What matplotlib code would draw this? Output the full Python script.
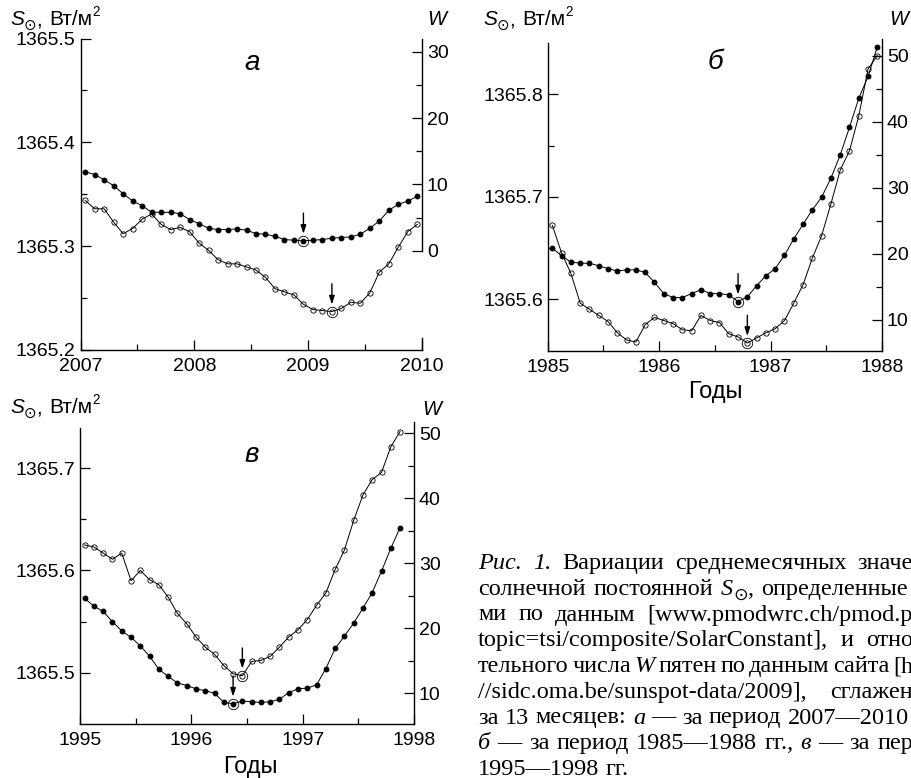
import numpy as np
import matplotlib
matplotlib.use('Agg')
import matplotlib.pyplot as plt
from matplotlib.ticker import FixedLocator, FormatStrFormatter
from matplotlib.transforms import IdentityTransform

plt.rcParams['font.family'] = ['Liberation Sans', 'DejaVu Sans']

# --- данные (среднемесячные, сглаженные за 13 месяцев) ---
# а: 2007-2010
w_a = [11.9, 11.5, 10.7, 9.8, 8.6, 7.5, 6.8, 5.8, 5.8, 5.8, 5.6, 4.7,
       4.1, 3.4, 3.2, 3.2, 3.3, 3.1, 2.6, 2.5, 2.2, 1.7, 1.6, 1.5,
       1.6, 1.7, 1.9, 2.0, 2.1, 2.5, 3.4, 4.5, 6.1, 7.0, 7.5, 8.2]
s_a = [1365.344, 1365.336, 1365.336, 1365.323, 1365.312, 1365.317,
       1365.326, 1365.331, 1365.321, 1365.316, 1365.318, 1365.314,
       1365.303, 1365.296, 1365.287, 1365.283, 1365.283, 1365.280,
       1365.277, 1365.270, 1365.259, 1365.256, 1365.253, 1365.244,
       1365.239, 1365.238, 1365.237, 1365.240, 1365.246, 1365.245,
       1365.255, 1365.275, 1365.283, 1365.299, 1365.314, 1365.321]
# б: 1985-1988
w_b = [20.9, 19.7, 18.8, 18.6, 18.6, 18.2, 17.8, 17.4, 17.6, 17.6, 17.2, 15.7,
       14.0, 13.4, 13.4, 14.0, 14.6, 14.0, 14.0, 13.8, 12.8, 13.5, 15.2, 16.7,
       17.8, 19.8, 22.3, 24.5, 26.7, 28.6, 31.5, 35.0, 39.2, 43.6, 46.9, 51.4]
s_b = [1365.672, 1365.645, 1365.625, 1365.596, 1365.590, 1365.584,
       1365.578, 1365.567, 1365.560, 1365.558, 1365.575, 1365.582,
       1365.579, 1365.576, 1365.570, 1365.569, 1365.584, 1365.579,
       1365.577, 1365.566, 1365.563, 1365.557, 1365.562, 1365.567,
       1365.571, 1365.579, 1365.596, 1365.614, 1365.640, 1365.662,
       1365.693, 1365.726, 1365.745, 1365.779, 1365.825, 1365.838]
# в: 1995-1998
w_c = [24.6, 23.4, 22.6, 21.0, 19.6, 18.6, 17.3, 15.7, 13.7, 12.6, 11.6, 11.2,
       10.7, 10.4, 10.0, 8.6, 8.4, 8.8, 8.7, 8.6, 8.7, 9.1, 10.1, 10.7,
       10.8, 11.3, 13.8, 16.9, 18.8, 20.8, 23.1, 25.5, 28.8, 32.3, 35.5]
s_c = [1365.625, 1365.623, 1365.617, 1365.611, 1365.617, 1365.590,
       1365.600, 1365.591, 1365.586, 1365.574, 1365.558, 1365.548,
       1365.535, 1365.525, 1365.518, 1365.507, 1365.499, 1365.497,
       1365.511, 1365.512, 1365.516, 1365.525, 1365.535, 1365.542,
       1365.552, 1365.566, 1365.578, 1365.601, 1365.620, 1365.649,
       1365.674, 1365.689, 1365.696, 1365.721, 1365.736]

caption = [
    "*Рис.* *1.* Вариации среднемесячных значе",
    "солнечной постоянной *S*_⊙_, определенные",
    "ми по данным [www.pmodwrc.ch/pmod.p",
    "topic=tsi/composite/SolarConstant], и отно",
    "тельного числа *W* пятен по данным сайта [h",
    "//sidc.oma.be/sunspot-data/2009], сглажен",
    "за 13 месяцев: *а* — за период 2007—2010",
    "*б* — за период 1985—1988 гг., *в* — за пер",
    "1995—1998 гг.",
]
caption_right = [913, 908, 913, 913, 913, 913, 909, 913, None]

W, H = 911, 778
fig = plt.figure(figsize=(W / 100, H / 100), dpi=100)
rend = fig.canvas.get_renderer()


def px_box(l, t, r, b):
    return [l / W, 1 - b / H, (r - l) / W, (b - t) / H]


def parse(word):
    # '*' курсив, '_' нижний индекс, '^' верхний индекс
    runs, cur, style = [], '', 'n'
    for ch in word:
        if ch in '*_^':
            if cur:
                runs.append((cur, style))
                cur = ''
            new = {'*': 'i', '_': 'sub', '^': 'sup'}[ch]
            style = 'n' if style == new else new
        else:
            cur += ch
    if cur:
        runs.append((cur, style))
    return runs


def draw_line(x, y, line, family, size, right=None, space=0.25):
    em = size * 100 / 72
    words = []
    for wd in line.split(' '):
        items = []
        for text, style in parse(wd):
            fs, dy = size, 0
            kw = {}
            if style == 'i':
                kw['fontstyle'] = 'italic'
            if style == 'sub':
                fs, dy = size * 0.72, -0.22 * em
            if style == 'sup':
                fs, dy = size * 0.65, 0.42 * em
            t = fig.text(0, H - y + dy, text, transform=IdentityTransform(),
                         family=family, fontsize=fs, va='baseline', ha='left', **kw)
            items.append((t, t.get_window_extent(rend).width))
        words.append(items)
    total = sum(w for items in words for _, w in items)
    gap = space * em
    if right is not None and len(words) > 1:
        g = (right - x - total) / (len(words) - 1)
        if g > gap * 0.5:
            gap = g
    for items in words:
        for t, w in items:
            t.set_x(x)
            x += w
        x += gap


def panel(box, year0, s_vals, w_vals, s_lim, w_lim, s_ticks, s_minor,
          w_ticks, w_minor, s_top, w_bounds):
    ax = fig.add_axes(box)
    axr = ax.twinx()
    t_s = year0 + (np.arange(len(s_vals)) + 0.5) / 12
    t_w = year0 + (np.arange(len(w_vals)) + 0.5) / 12
    ax.plot(t_s, s_vals, '-o', color='k', lw=0.7, ms=3.8, mfc='none', mew=0.6)
    axr.plot(t_w, w_vals, '-o', color='k', lw=0.7, ms=3.2)

    # минимумы: кольцо и стрелка
    for a, t, v in ((ax, t_s, s_vals), (axr, t_w, w_vals)):
        i = int(np.argmin(v))
        a.plot(t[i], v[i], 'o', mfc='none', mec='k', ms=7.5, mew=0.6)
        a.annotate('', xy=(t[i], v[i]), xytext=(0, 20), textcoords='offset points',
                   arrowprops=dict(arrowstyle='-|>,head_length=0.5,head_width=0.16',
                                   color='k', lw=1.0, shrinkA=0, shrinkB=5))

    ax.set_xlim(year0, year0 + 3)
    ax.set_ylim(*s_lim)
    axr.set_ylim(*w_lim)
    ax.xaxis.set_major_locator(FixedLocator(np.arange(year0, year0 + 4)))
    ax.xaxis.set_minor_locator(FixedLocator(np.arange(year0, year0 + 3) + 0.5))
    ax.xaxis.set_major_formatter(FormatStrFormatter('%d'))
    ax.yaxis.set_major_locator(FixedLocator(s_ticks))
    ax.yaxis.set_minor_locator(FixedLocator(s_minor))
    ax.yaxis.set_major_formatter(FormatStrFormatter('%.1f'))
    axr.yaxis.set_major_locator(FixedLocator(w_ticks))
    axr.yaxis.set_minor_locator(FixedLocator(w_minor))

    for a in (ax, axr):
        a.tick_params(which='major', direction='in', length=7, width=0.9,
                      labelsize=14, pad=3.5)
        a.tick_params(which='minor', direction='in', length=4, width=0.9)
    ax.tick_params(axis='x', which='major', pad=6)

    ax.spines['top'].set_visible(False)
    ax.spines['right'].set_visible(False)
    for sp in ('top', 'left', 'bottom'):
        axr.spines[sp].set_visible(False)
    ax.spines['left'].set_bounds(s_lim[0], s_top)
    axr.spines['right'].set_bounds(*w_bounds)
    for a in (ax, axr):
        for sp in a.spines.values():
            sp.set_linewidth(1.0)
    return ax, axr


# а
ax_a, axr_a = panel(px_box(80.5, 38.5, 422, 350), 2007, s_a, w_a,
                    (1365.2, 1365.5), (-14.95, 32.0),
                    [1365.2, 1365.3, 1365.4, 1365.5], [1365.25, 1365.35, 1365.45],
                    [0, 10, 20, 30], [5, 15, 25], 1365.5, (0, 32.0))
axr_a.plot([1, 1], [0, 0.04], color='k', lw=1.0, transform=axr_a.transAxes,
           clip_on=False)

# б
panel(px_box(547.7, 39.3, 882, 351), 1985, s_b, w_b,
      (1365.5492, 1365.8539), (5.30, 52.53),
      [1365.6, 1365.7, 1365.8], [1365.65, 1365.75],
      [10, 20, 30, 40, 50], [15, 25, 35, 45], 1365.8502, (5.30, 52.53))

# в
panel(px_box(80, 421.7, 414, 724), 1995, s_c, w_c,
      (1365.4498, 1365.7456), (5.28, 51.78),
      [1365.5, 1365.6, 1365.7], [1365.55, 1365.65],
      [10, 20, 30, 40, 50], [15, 25, 35, 45], 1365.7394, (5.28, 51.78))

sans = ['Liberation Sans', 'DejaVu Sans']
# подписи осей
for x, y in ((10, 25), (483, 25), (10, 413)):
    draw_line(x, y, "*S*_⊙_, Вт/м^2^", sans, 15, space=0.35)
for x, y in ((427, 25), (889, 25), (422, 415)):
    fig.text(x, H - y, 'W', transform=IdentityTransform(), family=sans,
             fontsize=14.5, fontstyle='italic', va='baseline')
for x, y in ((715, 398), (250, 773)):
    fig.text(x, H - y, 'Годы', transform=IdentityTransform(), family=sans,
             fontsize=17, ha='center', va='baseline')
for x, y, s in ((252, 63, 'а'), (715, 62, 'б'), (252, 455, 'в')):
    fig.text(x, H - y, s, transform=IdentityTransform(), family=sans,
             fontsize=20, fontstyle='italic', ha='center', va='center')

# подпись к рисунку
serif = ['Liberation Serif', 'DejaVu Sans']
for k, (line, right) in enumerate(zip(caption, caption_right)):
    draw_line(478, 569 + 25.75 * k, line, serif, 17.5, right=right)

fig.savefig('out.png', dpi=100)
